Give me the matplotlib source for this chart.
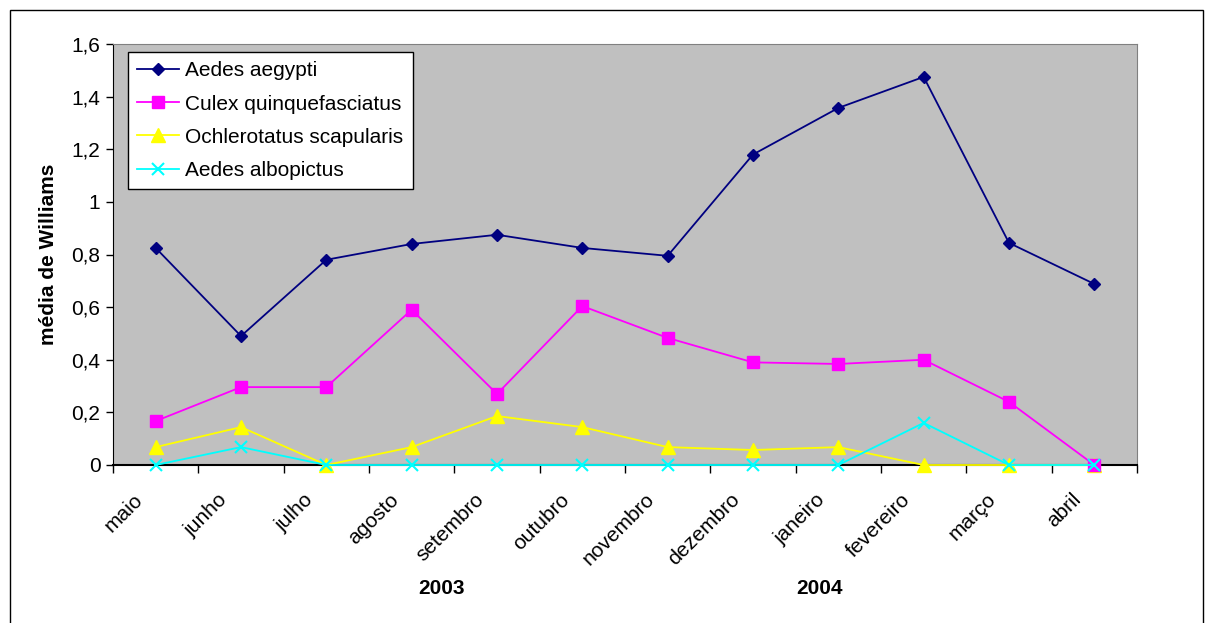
import matplotlib.pyplot as plt
import matplotlib.transforms as mtransforms
from matplotlib.patches import Rectangle
from matplotlib.ticker import FuncFormatter, FixedLocator, NullFormatter

plt.rcParams['font.family'] = ['Liberation Sans', 'DejaVu Sans']

# months, May 2003 to April 2004
months = ['maio', 'junho', 'julho', 'agosto', 'setembro', 'outubro',
          'novembro', 'dezembro', 'janeiro', 'fevereiro', 'março', 'abril']

aegypti = [0.825, 0.49, 0.78, 0.84, 0.875, 0.825, 0.795, 1.18, 1.357, 1.475, 0.844, 0.688]
culex = [0.167, 0.296, 0.296, 0.59, 0.27, 0.604, 0.483, 0.39, 0.384, 0.40, 0.24, 0.0]
scapularis = [0.068, 0.144, 0.0, 0.068, 0.186, 0.144, 0.068, 0.057, 0.068, 0.0, 0.0, 0.0]
albopictus = [0.0, 0.068, 0.0, 0.0, 0.0, 0.0, 0.0, 0.0, 0.0, 0.16, 0.0, 0.0]

fig = plt.figure(figsize=(12.1, 6.23), dpi=100)
ax = fig.add_axes([113/1210, 1-465/623, (1137-113)/1210, (465-44)/623])
ax.set_facecolor('#C0C0C0')

x = list(range(len(months)))
ax.plot(x, aegypti, color='#000080', marker='D', ms=6, lw=1.3, label='Aedes aegypti', clip_on=False, zorder=5)
ax.plot(x, culex, color='#FF00FF', marker='s', ms=9, lw=1.3, label='Culex quinquefasciatus', clip_on=False, zorder=4)
ax.plot(x, scapularis, color='#FFFF00', marker='^', ms=10, lw=1.3, label='Ochlerotatus scapularis', clip_on=False, zorder=3)
ax.plot(x, albopictus, color='#00FFFF', marker='x', ms=9, mew=1.5, lw=1.3, label='Aedes albopictus', clip_on=False, zorder=6)

ax.set_xlim(-0.5, 11.5)
ax.set_ylim(0, 1.6)

# x ticks between months, labels under the months
ax.xaxis.set_major_locator(FixedLocator([i - 0.5 for i in range(13)]))
ax.xaxis.set_major_formatter(NullFormatter())
ax.xaxis.set_minor_locator(FixedLocator(x))
ax.set_xticklabels(months, minor=True, rotation=45, ha='right', rotation_mode='anchor', fontsize=15)
ax.tick_params(axis='x', which='minor', length=0, pad=18)
ax.tick_params(axis='x', which='major', length=6, width=1, direction='out')
shift = mtransforms.ScaledTranslation(-23/100, 0, fig.dpi_scale_trans)
for lab in ax.get_xticklabels(minor=True):
    lab.set_transform(lab.get_transform() + shift)

ax.set_yticks([0, 0.2, 0.4, 0.6, 0.8, 1.0, 1.2, 1.4, 1.6])
ax.yaxis.set_major_formatter(FuncFormatter(lambda v, p: ('%g' % round(v, 1)).replace('.', ',')))
ax.tick_params(axis='y', length=5, width=1, labelsize=15, pad=4)

ax.spines['left'].set_color('black')
ax.spines['bottom'].set_color('black')
ax.spines['bottom'].set_linewidth(1.5)
ax.spines['top'].set_color('#808080')
ax.spines['right'].set_color('#808080')

ax.set_ylabel('média de Williams', fontsize=15, fontweight='bold', labelpad=10)

ax.text(3.35, -0.47, '2003', transform=ax.transData, ha='center', va='center',
        fontsize=15, fontweight='bold', clip_on=False)
ax.text(7.78, -0.47, '2004', transform=ax.transData, ha='center', va='center',
        fontsize=15, fontweight='bold', clip_on=False)

leg = ax.legend(loc='upper left', bbox_to_anchor=(0.0146, 0.981), borderaxespad=0, fontsize=15,
                fancybox=False, framealpha=1, edgecolor='black', borderpad=0.45, labelspacing=0.68,
                handlelength=2.0, handletextpad=0.3)
leg.get_frame().set_linewidth(1)
leg.set_zorder(10)

fig.patches.append(Rectangle((10/1210, -0.01), (1203-10)/1210, 1-10/623 + 0.01,
                             transform=fig.transFigure, fill=False, edgecolor='black', lw=1))

fig.savefig('out.png', dpi=100)
